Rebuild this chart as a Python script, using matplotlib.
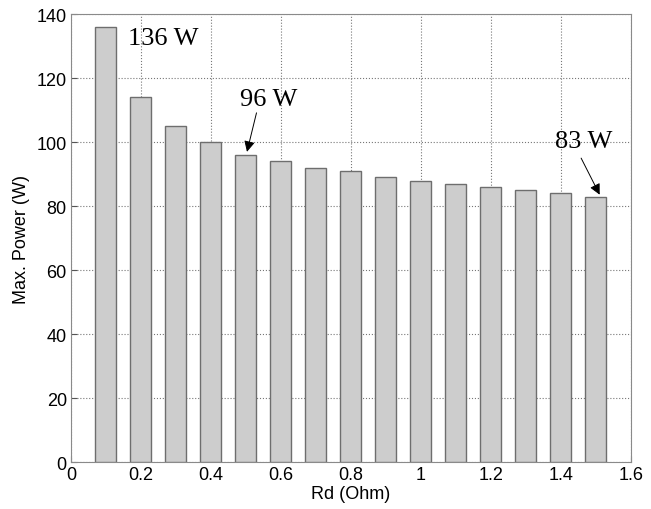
import numpy as np
import matplotlib.pyplot as plt

# resistance values and max power
rd = [0.1, 0.2, 0.3, 0.4, 0.5, 0.6, 0.7, 0.8, 0.9, 1.0, 1.1, 1.2, 1.3, 1.4, 1.5]
power = [136, 114, 105, 100, 96, 94, 92, 91, 89, 88, 87, 86, 85, 84, 83]

plt.rcParams['font.family'] = ['Liberation Sans', 'DejaVu Sans']

fig = plt.figure(figsize=(6.51, 5.1), dpi=100)
ax = fig.add_axes([0.109, 0.092, 0.860, 0.878])

ax.bar(rd, power, width=0.06, color='#cdcdcd', edgecolor='#6e6e6e', linewidth=1.0, zorder=3)

ax.set_xlim(0, 1.6)
ax.set_ylim(0, 140)
ax.set_xticks(np.arange(0, 1.61, 0.2))
ax.set_xticklabels(['0', '0.2', '0.4', '0.6', '0.8', '1', '1.2', '1.4', '1.6'])
ax.set_yticks(range(0, 141, 20))
ax.grid(True, linestyle=':', color='#777777', linewidth=0.8, zorder=0)
for s in ax.spines.values():
    s.set_color('#8a8a8a')
ax.tick_params(direction='in', length=4, labelsize=13, color='#555555', pad=3)
ax.set_xlabel('Rd (Ohm)', fontsize=13, labelpad=1)
ax.set_ylabel('Max. Power (W)', fontsize=13, labelpad=5)

serif = ['Liberation Serif', 'DejaVu Serif']
ax.text(0.163, 132.6, '136 W', family=serif, fontsize=19, va='center', ha='left')
ax.annotate('96 W', xy=(0.503, 97.0), xytext=(0.483, 113.5), family=serif, fontsize=19,
            va='center', ha='left',
            arrowprops=dict(arrowstyle='-|>', color='black', lw=0.7, mutation_scale=16,
                            shrinkA=0, shrinkB=0, relpos=(0.3, 0.0)))
ax.annotate('83 W', xy=(1.511, 83.6), xytext=(1.383, 100.5), family=serif, fontsize=19,
            va='center', ha='left',
            arrowprops=dict(arrowstyle='-|>', color='black', lw=0.7, mutation_scale=16,
                            shrinkA=3, shrinkB=0, relpos=(0.4, 0.0)))

fig.savefig('out.png', dpi=100)
